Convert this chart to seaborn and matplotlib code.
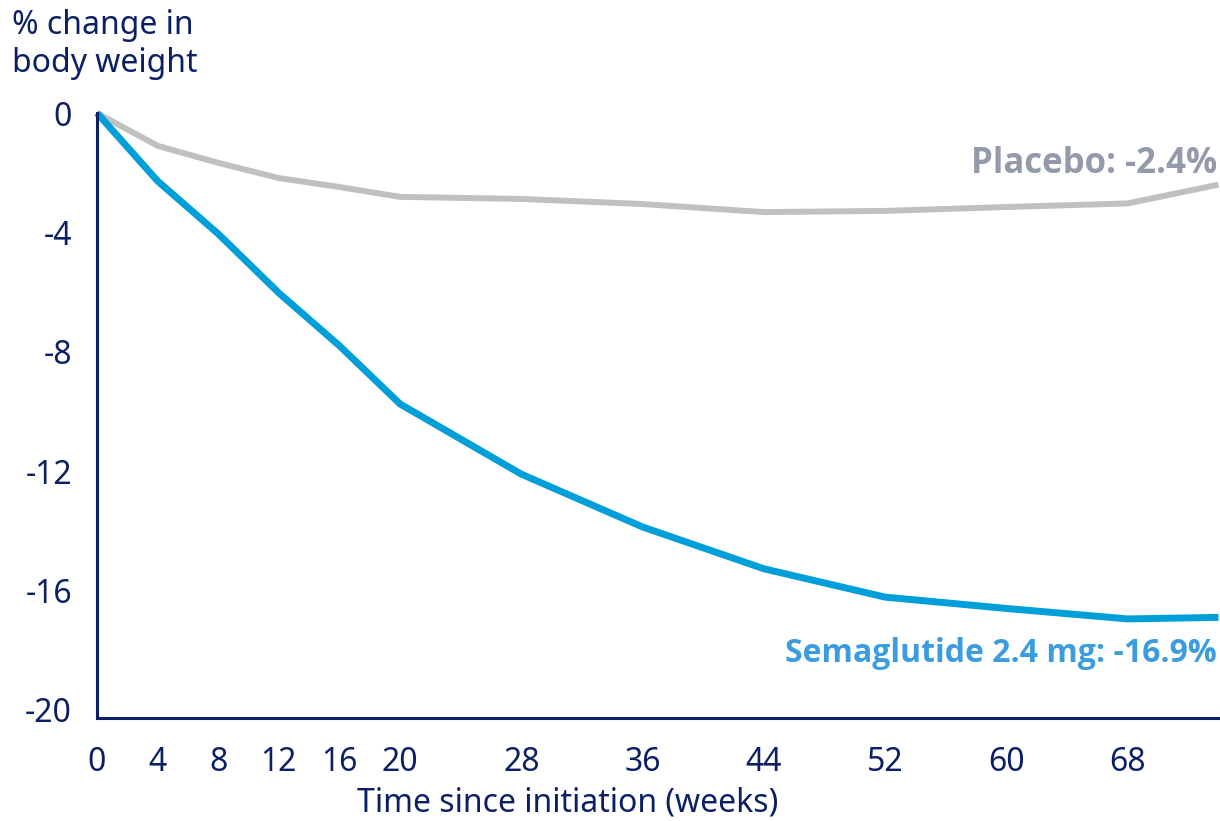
import matplotlib
matplotlib.use("Agg")
import matplotlib.pyplot as plt
import seaborn as sns
import pandas as pd

weeks = [0, 4, 8, 12, 16, 20, 28, 36, 44, 52, 60, 68, 74]
semaglutide = [0, -2.28, -4.05, -6.03, -7.8, -9.75, -12.1, -13.87, -15.27, -16.22, -16.6, -16.95, -16.9]
placebo = [0, -1.1, -1.67, -2.18, -2.48, -2.81, -2.88, -3.05, -3.32, -3.28, -3.15, -3.03, -2.4]
xticks = [0, 4, 8, 12, 16, 20, 28, 36, 44, 52, 60, 68]
yticks = [0, -4, -8, -12, -16, -20]

NAVY = "#0B1F65"
BLUE = "#009FDA"
GREY = "#C0C0C0"

sns.set_style("white")
plt.rcParams['font.family'] = ['Noto Sans', 'Open Sans', 'DejaVu Sans']

df = pd.DataFrame({
    "week": weeks * 2,
    "change": placebo + semaglutide,
    "arm": ["Placebo"] * len(weeks) + ["Semaglutide"] * len(weeks),
})

fig = plt.figure(figsize=(12.2, 8.21), dpi=100)
W, H = 1220, 821
left, right, top, bottom = 97, 1220, 113, 718
ax = fig.add_axes([left / W, 1 - bottom / H, (right - left) / W, (bottom - top) / H])

sns.lineplot(data=df, x="week", y="change", hue="arm",
             palette={"Placebo": GREY, "Semaglutide": BLUE},
             hue_order=["Placebo", "Semaglutide"],
             linewidth=5, legend=False, ax=ax, clip_on=False)
for ln in ax.lines:
    ln.set_solid_joinstyle("miter")
    ln.set_solid_capstyle("butt")
ax.lines[0].set_linewidth(4.3)

FS = 23
ax.set_xlim(0, 74.1)
ax.set_ylim(-20.27, 0)
ax.set_xticks(xticks)
ax.set_yticks(yticks)
ax.set_xticklabels([str(t) for t in xticks], fontsize=FS, color=NAVY)
ax.set_yticklabels([str(t) for t in yticks], fontsize=FS, color=NAVY)
ax.tick_params(axis='both', length=0)
ax.tick_params(axis='x', pad=20)
ax.tick_params(axis='y', pad=18)
ax.set_xlabel("")
ax.set_ylabel("")
for s in ["top", "right"]:
    ax.spines[s].set_visible(False)
for s in ["left", "bottom"]:
    ax.spines[s].set_color(NAVY)
    ax.spines[s].set_linewidth(2.2)

fig.text(12 / W, 1 - 9 / H, "% change in\nbody weight", fontsize=FS, color=NAVY,
         ha="left", va="top", linespacing=1.2)
fig.text(568 / W, 1 - 803 / H, "Time since initiation (weeks)", fontsize=FS, color=NAVY,
         ha="center", va="center")

bold = ['Open Sans', 'Lato', 'DejaVu Sans']
ax.text(73.9, -1.7, "Placebo: -2.4%", fontsize=25, fontweight="bold", family=bold,
        color="#939AAA", ha="right", va="center")
ax.text(73.9, -18.1, "Semaglutide 2.4 mg: -16.9%", fontsize=FS, fontweight="bold", family=bold,
        color="#3B9DE0", ha="right", va="center")

fig.savefig("out.png", dpi=100)
